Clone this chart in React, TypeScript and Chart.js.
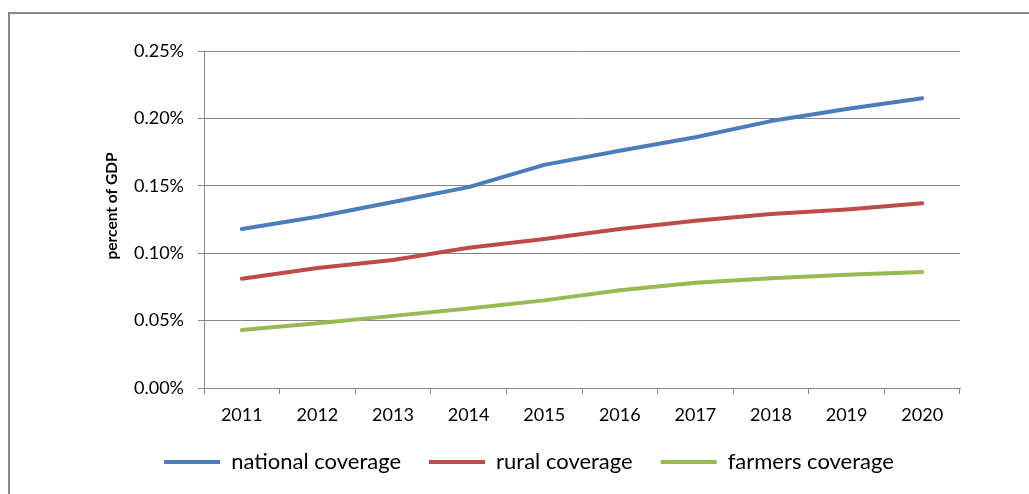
import React, { useEffect, useRef } from "react";
import { Chart, registerables } from "chart.js";

Chart.register(...registerables);

const years = ["2011", "2012", "2013", "2014", "2015", "2016", "2017", "2018", "2019", "2020"];
const national = [0.118, 0.127, 0.138, 0.149, 0.1655, 0.176, 0.186, 0.198, 0.207, 0.215];
const rural = [0.081, 0.089, 0.095, 0.104, 0.1105, 0.118, 0.124, 0.129, 0.1325, 0.137];
const farmers = [0.043, 0.048, 0.0535, 0.059, 0.065, 0.0725, 0.078, 0.0815, 0.084, 0.086];
const seriesNames = ["national coverage", "rural coverage", "farmers coverage"];
const yAxisTitle = "percent of GDP";

const FONT = "Lato, 'Open Sans', sans-serif";
const GRID = "#878787";

const yTitlePlugin = {
  id: "yTitlePlugin",
  afterDraw(chart: any) {
    const ctx = chart.ctx;
    ctx.save();
    ctx.translate(112, 206);
    ctx.rotate(-Math.PI / 2);
    ctx.font = `bold 15.5px ${FONT}`;
    ctx.fillStyle = "#000";
    ctx.textAlign = "center";
    ctx.textBaseline = "middle";
    ctx.fillText(yAxisTitle, 0, 0);
    ctx.restore();
  },
};

export default function App() {
  const ref = useRef<HTMLCanvasElement | null>(null);
  useEffect(() => {
    if (!ref.current) return;
    const mk = (label: string, data: number[], color: string) => ({
      label,
      data,
      borderColor: color,
      backgroundColor: color,
      borderWidth: 4,
      borderCapStyle: "round" as const,
      borderJoinStyle: "round" as const,
      pointRadius: 0,
      pointHoverRadius: 0,
      tension: 0,
      pointStyle: "line" as const,
    });
    const chart = new Chart(ref.current, {
      type: "line",
      data: {
        labels: years,
        datasets: [
          mk(seriesNames[0], national, "#4A7EBB"),
          mk(seriesNames[1], rural, "#BE4B48"),
          mk(seriesNames[2], farmers, "#98B954"),
        ],
      },
      options: {
        animation: false,
        responsive: true,
        maintainAspectRatio: false,
        layout: { padding: { left: 98, right: 69, top: 51, bottom: 11 } },
        plugins: {
          legend: {
            position: "bottom",
            labels: {
              usePointStyle: true,
              pointStyleWidth: 56,
              boxHeight: 18,
              padding: 28,
              color: "#000",
              font: { family: FONT, size: 22 },
            },
          },
          tooltip: { enabled: false },
        },
        scales: {
          x: {
            offset: true,
            grid: {
              offset: true,
              drawOnChartArea: false,
              drawTicks: true,
              tickLength: 6,
              color: GRID,
              lineWidth: 1,
            },
            border: { color: GRID, width: 1 },
            ticks: {
              color: "#000",
              padding: 10,
              maxRotation: 0,
              autoSkip: false,
              font: { family: FONT, size: 18 },
            },
            afterFit: (s: any) => {
              s.height = 35;
            },
          },
          y: {
            min: 0,
            max: 0.25,
            grid: { color: GRID, lineWidth: 1, tickLength: 6 },
            border: { color: GRID, width: 1 },
            ticks: {
              stepSize: 0.05,
              color: "#000",
              padding: 14,
              font: { family: FONT, size: 18 },
              callback: (v: any) => Number(v).toFixed(2) + "%",
            },
            afterFit: (s: any) => {
              s.width = 106;
            },
          },
        },
      },
      plugins: [yTitlePlugin],
    });
    return () => chart.destroy();
  }, []);

  return (
    <>
      <div
        style={{
          position: "fixed",
          left: 8,
          top: 12,
          width: 1200,
          height: 700,
          borderLeft: "2px solid #888",
          borderTop: "2px solid #888",
          boxSizing: "border-box",
        }}
      />
      <div style={{ position: "fixed", left: 0, top: 0, width: 1029, height: 494 }}>
        <canvas ref={ref} />
      </div>
    </>
  );
}
